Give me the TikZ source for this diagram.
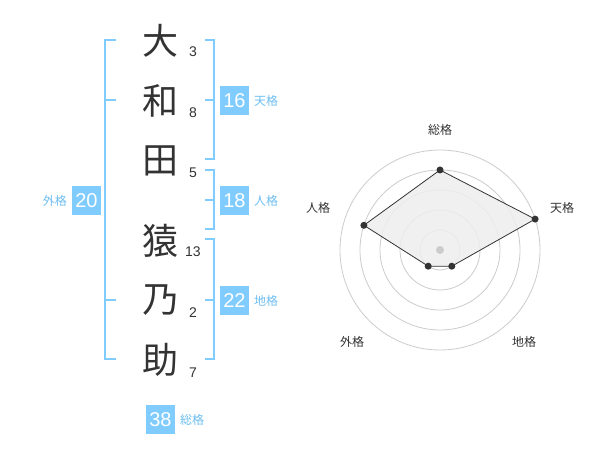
\documentclass[tikz,border=0pt]{standalone}
\usepackage{fontspec}
\setmainfont{Liberation Sans}
\newfontfamily\cjk{Noto Sans CJK JP}
\definecolor{boxblue}{RGB}{128,204,255}
\definecolor{lblblue}{RGB}{110,190,240}
\definecolor{ink}{RGB}{51,51,51}
\definecolor{ring}{RGB}{204,204,204}
\definecolor{area}{RGB}{238,238,238}
\begin{document}
\begin{tikzpicture}[x=1pt,y=-1pt,
  kanji/.style={font=\cjk\fontsize{36}{36}\selectfont,text=ink,inner sep=0pt},
  stroke/.style={font=\fontsize{14}{14}\selectfont,text=ink,inner sep=0pt},
  scorebox/.style={fill=boxblue,text=white,minimum width=29pt,minimum height=29pt,inner sep=0pt,font=\fontsize{20}{20}\selectfont},
  gradelbl/.style={font=\cjk\fontsize{12}{12}\selectfont,text=lblblue,inner sep=0pt},
  bracket/.style={draw=boxblue,line width=2pt},
  axislbl/.style={font=\cjk\fontsize{12}{12}\selectfont,text=ink,inner sep=0pt},
  ringline/.style={draw=ring,line width=0.8pt},
  dot/.style={circle,fill=ink,inner sep=0pt,minimum size=7pt}
]
\useasboundingbox (0,0) rectangle (600,470);
\fill[white] (0,0) rectangle (600,470);

% name characters
\node[kanji] (k1) at (160,41) {大};
\node[kanji] (k2) at (160,101) {和};
\node[kanji] (k3) at (160,161) {田};
\node[kanji] (k4) at (160,241) {猿};
\node[kanji] (k5) at (160,300) {乃};
\node[kanji] (k6) at (160,360) {助};
% stroke counts
\node[stroke] (s1) at (193,52) {3};
\node[stroke] (s2) at (193,113) {8};
\node[stroke] (s3) at (193,173) {5};
\node[stroke] (s4) at (193,252) {13};
\node[stroke] (s5) at (193,313) {2};
\node[stroke] (s6) at (193,373) {7};

% brackets
\draw[bracket] (116,40) -- (105,40) -- (105,359) -- (116,359);
\draw[bracket] (105,100) -- (116,100);
\draw[bracket] (105,300) -- (116,300);
\draw[bracket] (205,40) -- (214,40) -- (214,159) -- (205,159);
\draw[bracket] (205,100) -- (214,100);
\draw[bracket] (205,170) -- (214,170) -- (214,229) -- (205,229);
\draw[bracket] (205,200) -- (214,200);
\draw[bracket] (205,239) -- (214,239) -- (214,359) -- (205,359);
\draw[bracket] (205,300) -- (214,300);

% score boxes
\node[scorebox] (ten) at (234.5,100.5) {16};
\node[gradelbl,anchor=west] (tenl) at (254,101) {天格};
\node[scorebox] (jin) at (234.5,200.5) {18};
\node[gradelbl,anchor=west] (jinl) at (254,201) {人格};
\node[scorebox] (chi) at (234.5,300.5) {22};
\node[gradelbl,anchor=west] (chil) at (254,301) {地格};
\node[scorebox] (gai) at (86.5,200.5) {20};
\node[gradelbl,anchor=east] (gail) at (67,201) {外格};
\node[scorebox] (sou) at (160.5,419.5) {38};
\node[gradelbl,anchor=west] (soul) at (180,420) {総格};

% radar chart
\coordinate (c) at (440,250);
\foreach \r in {20,40,60,80,100} \draw[ringline] (c) circle[radius=\r];
\coordinate (p1) at (440,170);
\coordinate (p2) at (535.1,219.1);
\coordinate (p3) at (451.8,266.2);
\coordinate (p4) at (428.2,266.2);
\coordinate (p5) at (363.9,225.3);
\filldraw[fill=area,fill opacity=0.85,draw=ink,line width=0.8pt] (p1) -- (p2) -- (p3) -- (p4) -- (p5) -- cycle;
\node[circle,fill=ring,inner sep=0pt,minimum size=8pt] (cd) at (c) {};
\foreach \p in {p1,p2,p3,p4,p5} \node[dot] at (\p) {};
\node[axislbl] (a1) at (440,130) {総格};
\node[axislbl] (a2) at (562,208) {天格};
\node[axislbl] (a3) at (524,342) {地格};
\node[axislbl] (a4) at (352,342) {外格};
\node[axislbl] (a5) at (318,208) {人格};
\end{tikzpicture}
\end{document}
